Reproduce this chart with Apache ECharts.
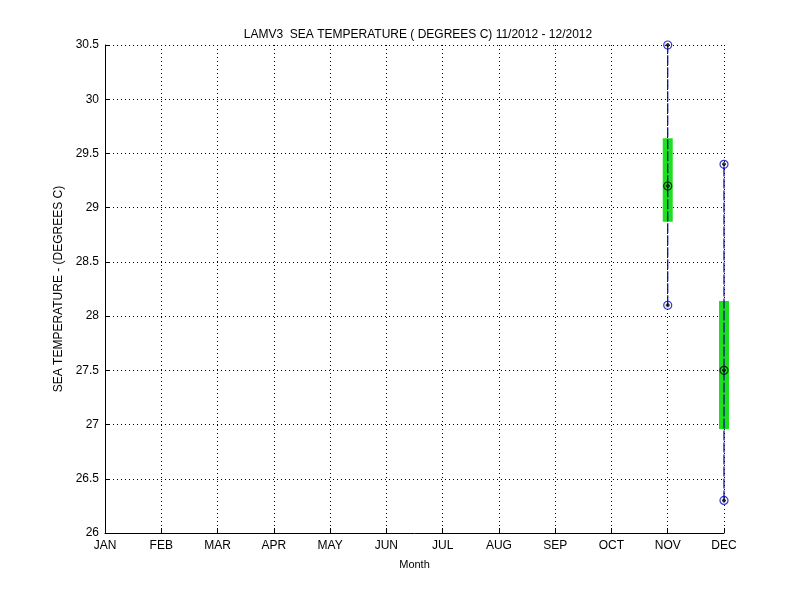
<!DOCTYPE html>
<html><head><meta charset="utf-8">
<script src="https://cdn.jsdelivr.net/npm/echarts@6/dist/echarts.min.js"></script>
<style>html,body{margin:0;padding:0;background:#fff}#c{width:800px;height:600px}</style>
</head><body><div id="c"></div>
<script>
const months = ['JAN','FEB','MAR','APR','MAY','JUN','JUL','AUG','SEP','OCT','NOV','DEC'];
const statMonths = [11, 12];
const minVals = [28.1, 26.3];
const maxVals = [30.5, 29.4];
const meanVals = [29.2, 27.5];
const boxLow = [28.87, 26.96];
const boxHigh = [29.64, 28.14];
const yTicks = [26, 26.5, 27, 27.5, 28, 28.5, 29, 29.5, 30, 30.5];

const font = 'Liberation Sans, Arial, sans-serif';
const chart = echarts.init(document.getElementById('c'));

const whiskerData = statMonths.map((m, i) => [m, minVals[i], maxVals[i]]);
const boxData = statMonths.map((m, i) => [m, boxLow[i], boxHigh[i]]);
const endPts = [];
statMonths.forEach((m, i) => { endPts.push([m, minVals[i]]); endPts.push([m, maxVals[i]]); });
const meanPts = statMonths.map((m, i) => [m, meanVals[i]]);

const plusPath = 'path://M0,5L10,5M5,0L5,10';

chart.setOption({
  animation: false,
  backgroundColor: '#fff',
  title: {
    text: 'LAMV3  SEA TEMPERATURE ( DEGREES C) 11/2012 - 12/2012',
    left: 413, top: 24, textAlign: 'center',
    textStyle: { fontFamily: font, fontSize: 12, fontWeight: 'normal', color: '#000' }
  },
  grid: { left: 105, right: 76, top: 45, bottom: 67 },
  xAxis: {
    type: 'value', min: 1, max: 12, interval: 1,
    name: 'Month', nameLocation: 'middle', nameGap: 26,
    nameTextStyle: { fontFamily: font, fontSize: 11, color: '#000' },
    axisLine: { show: true, lineStyle: { color: '#000', width: 1 } },
    axisTick: { show: true, inside: true, length: 5, lineStyle: { color: '#000' } },
    axisLabel: { fontFamily: font, fontSize: 12, color: '#000', margin: 7,
      formatter: v => months[Math.round(v) - 1] || '' },
    splitLine: { show: true, lineStyle: { color: '#000', type: [1, 3], width: 1 } }
  },
  yAxis: {
    type: 'value', min: 26, max: 30.5, interval: 0.5,
    name: 'SEA TEMPERATURE - (DEGREES C)', nameLocation: 'middle', nameGap: 39,
    nameTextStyle: { fontFamily: font, fontSize: 12, color: '#000' },
    axisLine: { show: true, lineStyle: { color: '#000', width: 1 } },
    axisTick: { show: true, inside: true, length: 5, lineStyle: { color: '#000' } },
    axisLabel: { fontFamily: font, fontSize: 12, color: '#000', margin: 6,
      formatter: v => { const t = yTicks.find(x => Math.abs(x - v) < 1e-6); return t === undefined ? '' : String(t); } },
    splitLine: { show: true, lineStyle: { color: '#000', type: [1, 3], width: 1 } }
  },
  series: [
    {
      type: 'custom', z: 2,
      data: boxData,
      renderItem: (params, api) => {
        const x = api.value(0);
        const p1 = api.coord([x, api.value(2)]);
        const p2 = api.coord([x, api.value(1)]);
        return { type: 'rect', shape: { x: p1[0] - 5, y: p1[1], width: 10, height: p2[1] - p1[1] },
          style: { fill: '#1fe01f' } };
      }
    },
    {
      type: 'custom', z: 3,
      data: whiskerData,
      renderItem: (params, api) => {
        const x = api.value(0);
        const p1 = api.coord([x, api.value(1)]);
        const p2 = api.coord([x, api.value(2)]);
        return { type: 'line', shape: { x1: p1[0], y1: p1[1], x2: p2[0], y2: p2[1] },
          style: { stroke: '#00008b', lineWidth: 1.2, lineDash: [10, 2] } };
      }
    },
    { type: 'scatter', z: 4, data: endPts, symbol: 'circle', symbolSize: 8,
      itemStyle: { color: 'rgba(0,0,0,0)', borderColor: '#0000c0', borderWidth: 1.2 } },
    { type: 'scatter', z: 4, data: meanPts, symbol: 'circle', symbolSize: 8,
      itemStyle: { color: 'rgba(0,0,0,0)', borderColor: '#000', borderWidth: 1.2 } },
    { type: 'scatter', z: 5, data: endPts.concat(meanPts), symbol: plusPath, symbolSize: 4,
      itemStyle: { color: 'none', borderColor: '#000', borderWidth: 2 } }
  ]
});
</script></body></html>
